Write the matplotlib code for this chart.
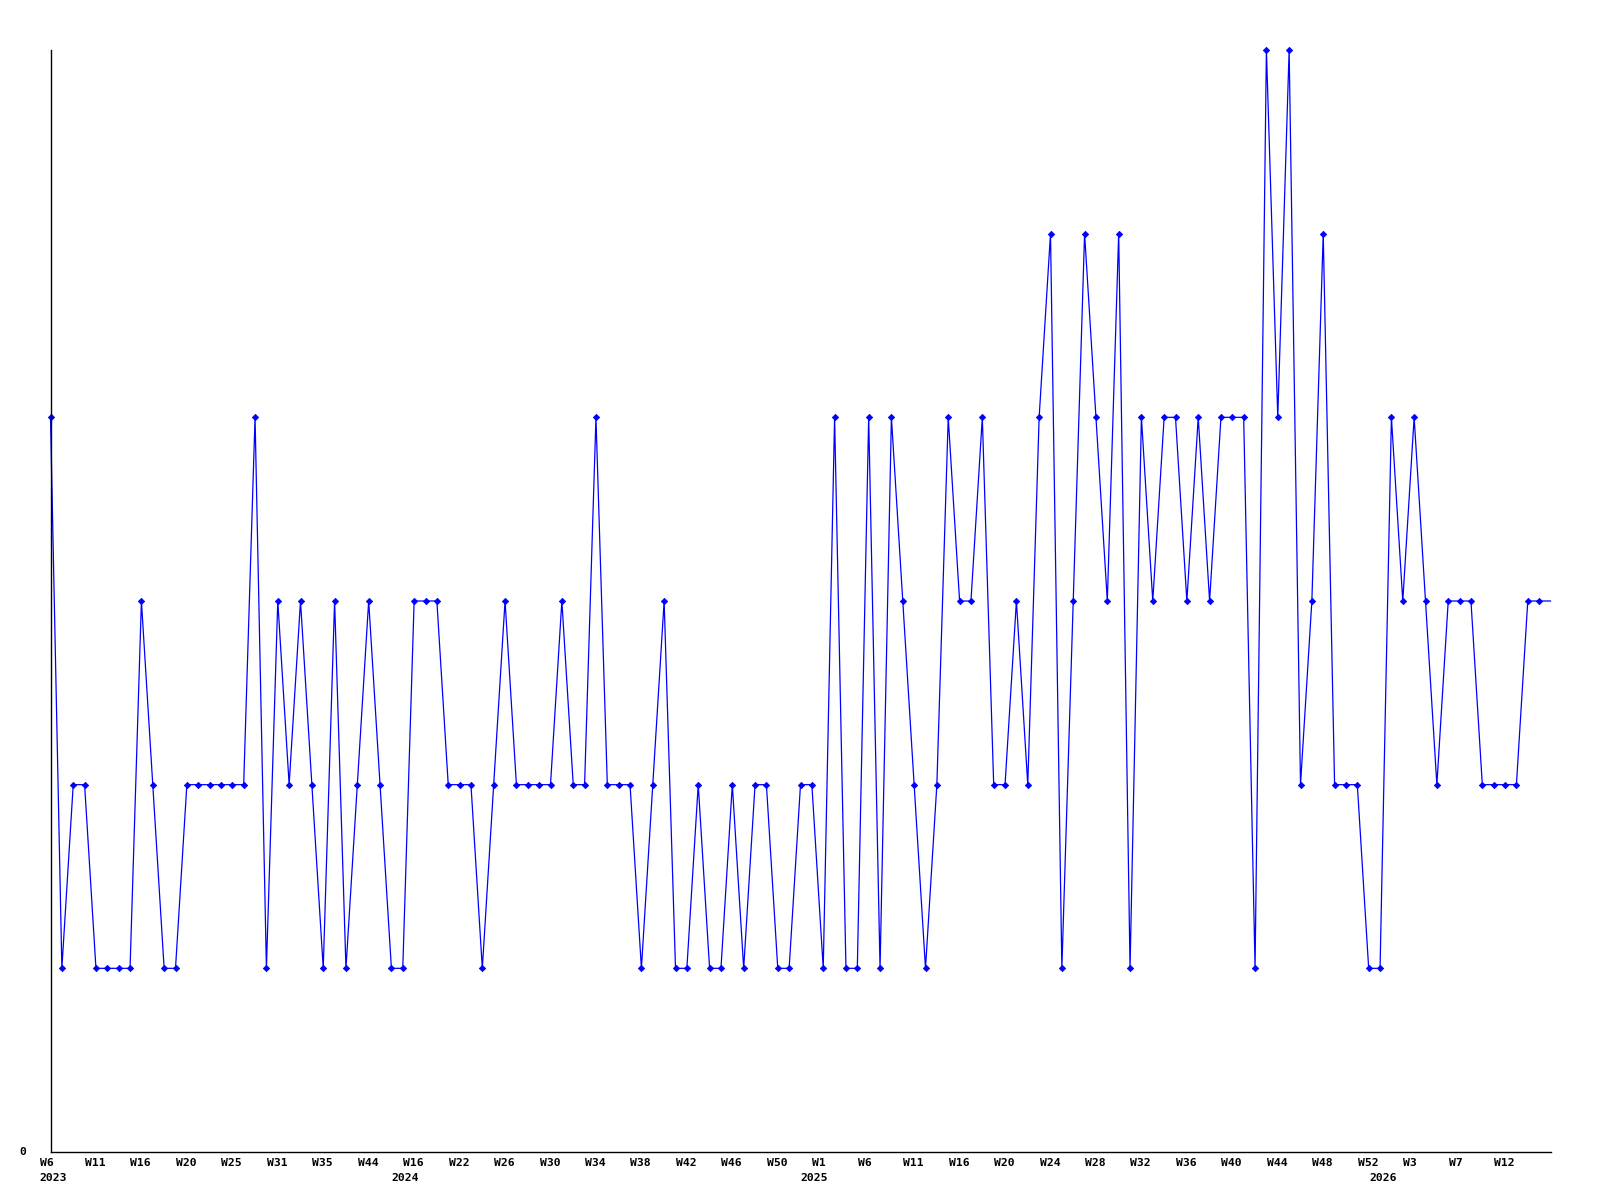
import matplotlib
matplotlib.use("Agg")
import matplotlib.pyplot as plt
import matplotlib.transforms as mtransforms

# Weekly counts (one point per sample, equally spaced)
values = [
    4, 1, 2, 2, 1, 1, 1, 1, 3, 2,
    1, 1, 2, 2, 2, 2, 2, 2, 4, 1,
    3, 2, 3, 2, 1, 3, 1, 2, 3, 2,
    1, 1, 3, 3, 3, 2, 2, 2, 1, 2,
    3, 2, 2, 2, 2, 3, 2, 2, 4, 2,
    2, 2, 1, 2, 3, 1, 1, 2, 1, 1,
    2, 1, 2, 2, 1, 1, 2, 2, 1, 4,
    1, 1, 4, 1, 4, 3, 2, 1, 2, 4,
    3, 3, 4, 2, 2, 3, 2, 4, 5, 1,
    3, 5, 4, 3, 5, 1, 4, 3, 4, 4,
    3, 4, 3, 4, 4, 4, 1, 6, 4, 6,
    2, 3, 5, 2, 2, 2, 1, 1, 4, 3,
    4, 3, 2, 3, 3, 3, 2, 2, 2, 2,
    3, 3, 3,
]

# Tick labels (one every 4 samples)
week_labels = [
    "W6", "W11", "W16", "W20", "W25", "W31", "W35", "W44", "W16",
    "W22", "W26", "W30", "W34", "W38", "W42", "W46", "W50", "W1",
    "W6", "W11", "W16", "W20", "W24", "W28", "W32", "W36", "W40",
    "W44", "W48", "W52", "W3", "W7", "W12",
]
# Year labels: sample index where each year starts
year_starts = [0, 31, 67, 117]
year_names = ["2023", "2024", "2025", "2026"]
tick_step = 4

fig = plt.figure(figsize=(16, 12), dpi=100)
ax = fig.add_axes([50.5 / 1600, 48 / 1200, 1500 / 1600, 1102 / 1200])

x = list(range(len(values)))
ax.plot(x, values, color="#0000ff", linewidth=0.9, solid_joinstyle="miter",
        marker="D", markersize=3.2, markevery=list(range(len(values) - 1)),
        markerfacecolor="#0000ff", markeredgecolor="#0000ff", markeredgewidth=0.6,
        clip_on=False)

ax.set_xlim(0, len(values) - 1)
ax.set_ylim(0, 6)

for s in ("top", "right"):
    ax.spines[s].set_visible(False)
for s in ("left", "bottom"):
    ax.spines[s].set_color("black")
    ax.spines[s].set_linewidth(1.0)

font = dict(family="DejaVu Sans Mono", weight="bold", size=8.2)
shift = mtransforms.ScaledTranslation(-11 / 100, 0, fig.dpi_scale_trans)

tick_pos = [i * tick_step for i in range(len(week_labels))]
ax.set_xticks(tick_pos)
ax.set_xticklabels(week_labels, fontdict=font, ha="left")
ax.tick_params(axis="x", length=0, pad=4.5)
for lbl in ax.get_xticklabels():
    lbl.set_transform(lbl.get_transform() + shift)

ax.set_yticks([0])
ax.set_yticklabels(["0"], fontdict=font, va="center")
ax.tick_params(axis="y", length=0, pad=17.5)

trans = mtransforms.blended_transform_factory(ax.transData, ax.transAxes) + shift
for xi, yr in zip(year_starts, year_names):
    ax.text(xi, -26 / 1102, yr, transform=trans, ha="left", va="center", **font)

fig.savefig("out.png", dpi=100, facecolor="white")
